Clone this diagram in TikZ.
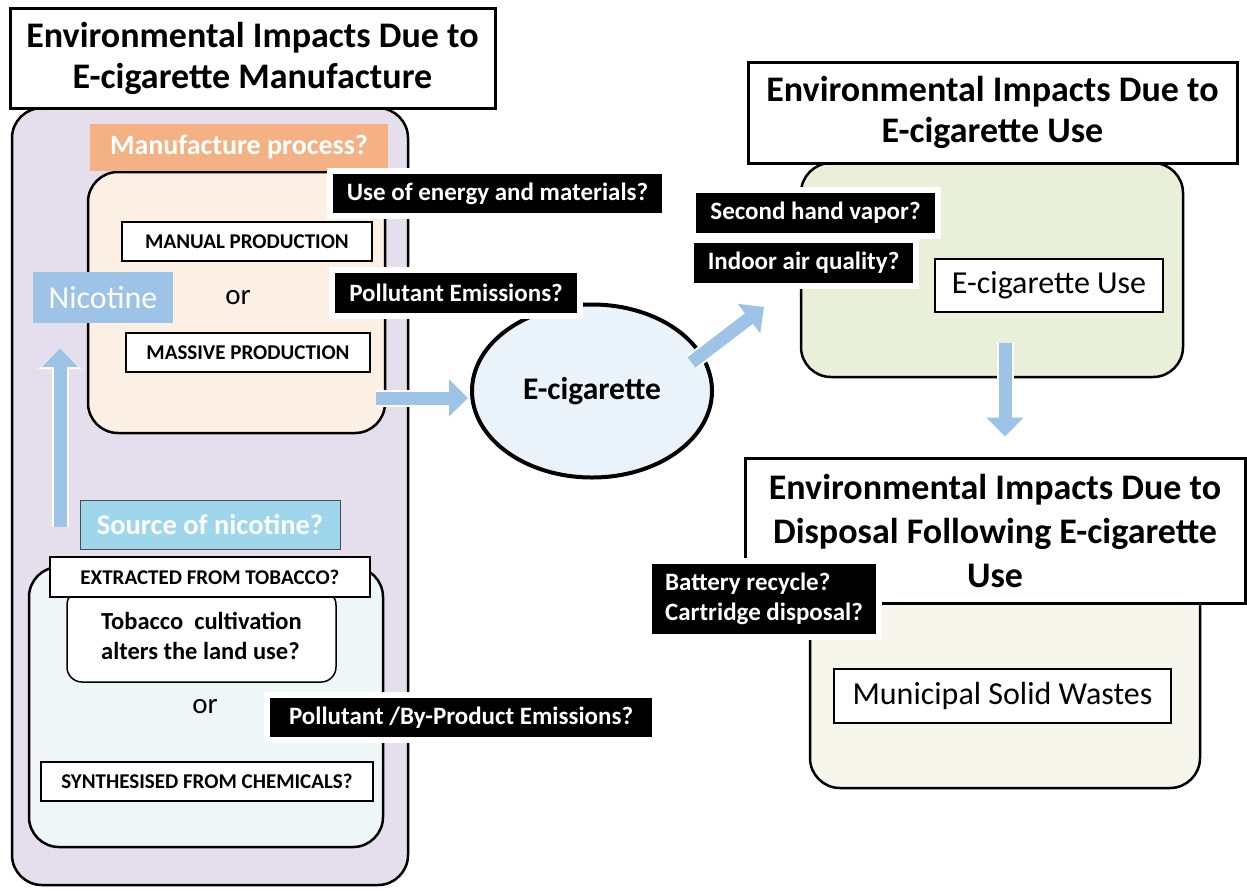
\documentclass[tikz,border=0pt]{standalone}
\usepackage{fontspec}
\setmainfont{Carlito}
\usetikzlibrary{shapes.geometric,arrows.meta,calc}
\definecolor{lavender}{HTML}{E5DFED}
\definecolor{peach}{HTML}{FCF0E5}
\definecolor{orangelbl}{HTML}{F4B183}
\definecolor{nicblue}{HTML}{9DC3E6}
\definecolor{srccyan}{HTML}{9ED6EC}
\definecolor{srcpanel}{HTML}{EEF6F8}
\definecolor{ecigfill}{HTML}{EAF2FA}
\definecolor{usegreen}{HTML}{E9EFD8}
\definecolor{cream}{HTML}{F6F6EC}
\definecolor{arrowblue}{HTML}{9DC3E6}
\tikzset{
  title/.style={draw, line width=3pt, fill=white, align=center, inner sep=0pt,
    font=\fontsize{36}{41}\selectfont\bfseries},
  panel/.style={draw, line width=2.5pt, rounded corners=30pt, inner sep=0pt},
  capsbox/.style={draw, line width=1.5pt, fill=white, inner sep=0pt,
    font=\fontsize{21}{25}\selectfont\bfseries},
  plainbox/.style={draw, line width=1.5pt, fill=white, inner sep=0pt,
    font=\fontsize{32}{38}\selectfont},
  question/.style={draw=white, line width=6pt, fill=black, text=white, inner sep=0pt,
    font=\fontsize{25}{30}\selectfont\bfseries},
  tag/.style={inner sep=0pt, text=white},
  ortext/.style={font=\fontsize{29}{34}\selectfont},
  flow/.style={line width=13pt, draw=arrowblue, -{Triangle[length=19pt,width=36pt]},
    preaction={draw=white, line width=17pt, -{Triangle[length=21pt,width=42pt]}}}
}
\begin{document}
\begin{tikzpicture}[x=1pt,y=-1pt]
\useasboundingbox (0,0) rectangle (1247,892);

\node[panel, fill=lavender, minimum width=396, minimum height=777] (mfgpanel) at (210,496.5) {};
\node[title, minimum width=485, minimum height=100] (mfgtitle) at (252.5,58) {Environmental Impacts Due to\\E-cigarette Manufacture};
\node[panel, fill=peach, minimum width=297, minimum height=261] (procpanel) at (236.5,302.5) {};
\node[tag, fill=orangelbl, minimum width=298, minimum height=47, font=\fontsize{28}{32}\selectfont\bfseries] (proclbl) at (239,147) {Manufacture process?};
\node[capsbox, minimum width=250, minimum height=39] (manual) at (247,241.5) {MANUAL PRODUCTION};
\node[ortext] (or1) at (238,298) {or};
\node[capsbox, minimum width=244, minimum height=39] (massive) at (248,352.5) {MASSIVE PRODUCTION};
\node[tag, fill=nicblue, minimum width=140, minimum height=51, font=\fontsize{32}{38}\selectfont] (nicotine) at (103,297.5) {Nicotine};

\node[panel, fill=srcpanel, minimum width=354, minimum height=280] (srcpanel) at (206,707) {};
\node[tag, fill=srccyan, draw=black!70, line width=1pt, minimum width=260, minimum height=49, font=\fontsize{28.5}{32}\selectfont\bfseries] (srclbl) at (210,524.5) {Source of nicotine?};
\node[draw, line width=1.5pt, fill=white, rounded corners=15pt, minimum width=269, minimum height=92, inner sep=0pt, align=left, font=\fontsize{24.5}{30}\selectfont\bfseries] (tobacco) at (201.5,636) {Tobacco\ \ cultivation\\alters the land use?};
\node[capsbox, minimum width=320, minimum height=40] (extracted) at (210,577) {EXTRACTED FROM TOBACCO?};
\node[ortext] (or2) at (205,707) {or};
\node[capsbox, minimum width=332, minimum height=39] (synth) at (207,781.5) {SYNTHESISED FROM CHEMICALS?};

\node[ellipse, draw, line width=4pt, fill=ecigfill, minimum width=240, minimum height=173, font=\fontsize{31.5}{36}\selectfont\bfseries] (ecig) at (592,391) {E-cigarette};

\node[question, minimum width=335, minimum height=45] (energy) at (497.5,193.5) {Use of energy and materials?};
\node[question, minimum width=248, minimum height=46] (emis) at (456,293) {Pollutant Emissions?};
\node[question, minimum width=388, minimum height=45] (byprod) at (461,717.5) {Pollutant /By-Product Emissions?};

\node[panel, fill=usegreen, minimum width=382, minimum height=214] (usepanel) at (992,270) {};
\node[title, minimum width=489, minimum height=101] (usetitle) at (992.5,112.5) {Environmental Impacts Due to\\E-cigarette Use};
\node[question, minimum width=245, minimum height=46] (vapor) at (815.5,213) {Second hand vapor?};
\node[question, minimum width=225, minimum height=46] (indoor) at (803.5,263) {Indoor air quality?};
\node[plainbox, minimum width=228, minimum height=53] (usebox) at (1049,285.5) {E-cigarette Use};

\node[panel, fill=cream, minimum width=390, minimum height=228] (disppanel) at (1005,674) {};
\node[title, minimum width=500, minimum height=145, font=\fontsize{36}{44}\selectfont\bfseries] (disptitle) at (995,530.5) {Environmental Impacts Due to\\Disposal Following E-cigarette\\Use};
\node[question, minimum width=230, minimum height=76, align=left, inner xsep=8pt] (battery) at (764,599) {Battery recycle?\\Cartridge disposal?};
\node[plainbox, minimum width=337, minimum height=54] (msw) at (1002.5,696) {Municipal Solid Wastes};

\coordinate (nicsrc) at (60,527);
\draw[flow] (nicsrc) -- ($(nicotine.south -| nicsrc)+(0,25)$);
\draw[flow] ($(procpanel.east |- ecig.west)+(-10,7)$) -- ($(ecig.west)+(-2,7)$);
\draw[flow] ($(ecig.16)+(-14,4)$) -- (764,307);
\draw[flow] ($(usepanel.south)+(13,-35)$) -- ($(usepanel.south |- disptitle.north)+(13,-20)$);
\end{tikzpicture}
\end{document}
